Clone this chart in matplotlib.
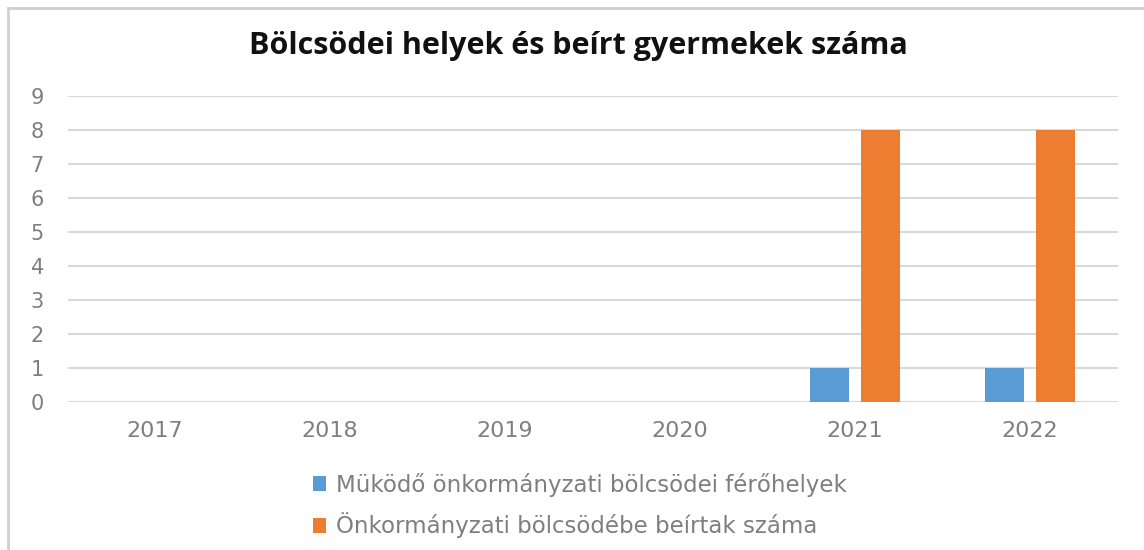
import numpy as np
import matplotlib.pyplot as plt
from matplotlib.patches import Rectangle

years = ["2017", "2018", "2019", "2020", "2021", "2022"]
ferohelyek = [0, 0, 0, 0, 1, 1]
beirtak = [0, 0, 0, 0, 8, 8]
series_labels = ["Müködő önkormányzati bölcsödei férőhelyek",
                 "Önkormányzati bölcsödébe beírtak száma"]

plt.rcParams['font.family'] = ['DejaVu Sans']

fig = plt.figure(figsize=(11.44, 5.5), dpi=100)
ax = fig.add_axes([67.5 / 1144, 1 - 402 / 550, 1050 / 1144, 306 / 550])

x = np.arange(len(years))
w = 0.22
ax.bar(x - 0.145, ferohelyek, w, color="#5b9bd5", label=series_labels[0], zorder=3)
ax.bar(x + 0.145, beirtak, w, color="#ed7d31", label=series_labels[1], zorder=3)

ax.set_xlim(-0.5, len(years) - 0.5)
ax.set_ylim(0, 9)
ax.set_yticks(range(0, 10))
ax.set_xticks(x)
ax.set_xticklabels(years)
ax.yaxis.grid(True, color="#d9d9d9", linewidth=1.5, zorder=0)
ax.set_axisbelow(True)
for s in ax.spines.values():
    s.set_visible(False)
ax.tick_params(axis="both", length=0, colors="#7f7f7f")
ax.tick_params(axis="x", pad=14, labelsize=16)
ax.tick_params(axis="y", pad=17, labelsize=15)

fig.text(0.506, 1 - 46 / 550, "Bölcsödei helyek és beírt gyermekek száma",
         ha="center", va="center", fontsize=22, fontweight="bold",
         color="#111111", family=["Open Sans", "DejaVu Sans"])

fig.legend(loc="upper left", bbox_to_anchor=(292 / 1144, 1 - 452 / 550),
           frameon=False, fontsize=16.5, labelcolor="#7f7f7f",
           handlelength=0.6, handleheight=0.6, handletextpad=0.4,
           labelspacing=0.7)

# chart frame
fig.patches.append(Rectangle((8 / 1144, -0.1), 1.2, 1 - 8 / 550 + 0.1,
                             transform=fig.transFigure, fill=False,
                             edgecolor="#d0d0d0", linewidth=2))

fig.savefig("out.png", dpi=100)
